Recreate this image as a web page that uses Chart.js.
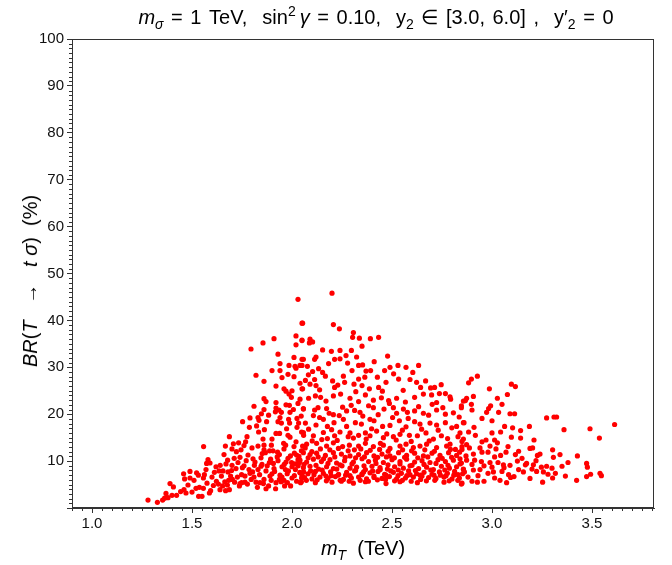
<!DOCTYPE html>
<html>
<head>
<meta charset="utf-8">
<script src="https://cdn.jsdelivr.net/npm/chart.js@4/dist/chart.umd.min.js"></script>
<style>
  body { margin: 0; background: #fff; }
  #wrap { position: relative; width: 672px; height: 565px; font-family: "Liberation Sans", Arial, Helvetica, sans-serif; color: #000; }
  canvas { position: absolute; left: 0; top: 0; }
  .lbl { position: absolute; white-space: nowrap; line-height: 1; }
  .lbl sub, .lbl sup { font-size: 70%; line-height: 0; }
  #title { left: 85px; width: 582px; top: 7px; text-align: center; font-size: 20px; word-spacing: 2px; }
  #xtitle { left: 72px; width: 582px; top: 538px; text-align: center; font-size: 20px; }
  #ytitle { left: 30px; top: 281px; font-size: 20px; transform: translate(-50%, -50%) rotate(-90deg); }
</style>
</head>
<body>
<div id="wrap">
  <canvas id="brChart" width="672" height="565"></canvas>
  <div class="lbl" id="title"><i>m</i><sub><i>σ</i></sub> = 1 TeV,&nbsp; sin<sup>2</sup>&thinsp;<i>γ</i> = 0.10,&nbsp; y<sub>2</sub> ∈ [3.0, 6.0] ,&nbsp; y′<sub>2</sub> = 0</div>
  <div class="lbl" id="ytitle"><i>BR</i>(<i>T</i> &nbsp;&nbsp;→&nbsp;&nbsp; <i>t</i> <i>σ</i>)&nbsp; (%)</div>
  <div class="lbl" id="xtitle"><i>m</i><sub><i>T</i></sub>&nbsp; (TeV)</div>
</div>
<script>
// tick labels
const xTickValues = [1.0, 1.5, 2.0, 2.5, 3.0, 3.5];
const yTickValues = [0, 10, 20, 30, 40, 50, 60, 70, 80, 90, 100];

// scan points [mT in TeV, BR in %]
const riseMass = [
  [2.03,44.5],[2.05,39.4],[2.02,36.7],[2.05,35.7],[1.91,36.1],[1.855,35.2],[1.795,33.9],[1.93,32.8],
  [2.02,34.8],[2.01,32.1],[2.05,31.7],[1.94,30.8],[1.985,30.4],[2.015,30.2],[2.02,29.8],[2.05,30.4],
  [1.90,29.3],[1.94,29.3],[1.98,28.5],[2.01,28.0],[1.95,27.8],[1.82,28.3],[1.86,27.0],[2.04,26.6],
  [1.92,26.0],[1.96,25.4],[1.97,24.9],[1.985,24.3],[2.0,25.0],[1.997,23.6],[2.05,25.4],[1.86,23.3],
  [1.87,22.7],[1.92,22.5],[1.97,22.0],[1.987,21.9],[2.03,22.3],[1.81,21.7],[1.86,21.0],[1.92,21.3],
  [1.917,20.5],[1.935,20.9],[1.947,20.4],[1.99,20.4],[2.007,21.0],[2.057,21.2],[1.847,20.1],[1.83,19.3],
  [1.79,19.2],[1.835,18.7],[1.883,19.8],[1.873,18.4],[1.94,19.3],[1.93,18.4],[1.947,18.1],[1.983,18.9],
  [1.988,18.1],[2.025,19.1],[2.033,18.1],[2.025,17.2],[1.753,18.4],[1.823,17.5],[1.833,16.2],[1.787,17.2],
  [1.862,16.7],[1.92,15.9],[1.938,15.9],[1.973,16.9],[1.98,15.5],[2.048,16.2],[2.058,15.5],[1.687,15.2],
  [1.775,15.2],[1.768,14.1],[1.855,14.7],[1.86,13.4],[1.897,13.4],[1.888,12.2],[1.905,12.2],[1.958,13.8],
  [1.968,13.4],[2.02,14.1],[2.01,13.1],[2.053,13.2],[2.047,12.2],[1.558,13.1],[1.667,13.2],[1.707,13.7],
  [1.733,13.9],[1.722,12.0],[1.745,12.4],[1.86,12.4],[1.867,11.8],[1.928,11.9],[1.937,11.4],[2.012,11.7],
  [2.023,11.3],[1.805,10.5],[1.845,10.7],[1.73,9.7],[1.678,10.2],[1.67,9.4],[1.573,9.5],[1.59,9.6],
  [1.57,8.2],[1.815,9.8],[1.83,8.2],[1.845,8.9],[1.893,10.4],[1.887,9.7],[1.907,9.5],[1.97,9.8],
  [1.998,9.7],[2.015,9.4],[2.037,9.7],[1.95,8.8],[1.967,8.2],[1.982,7.9],[2.017,8.2],[2.04,7.5],
  [2.058,7.7],[2.048,6.4],[1.458,7.3],[1.49,7.8],[1.523,7.5],[1.463,6.2],[1.49,6.4],[1.562,7.1],
  [1.557,6.4],[1.635,7.9],[1.655,7.9],[1.647,6.8],[1.68,7.7],[1.693,6.8],[1.683,5.9],[1.702,6.1],
  [1.713,5.5],[1.677,4.9],[1.748,7.1],[1.765,6.8],[1.785,8.2],[1.803,7.7],[1.79,7.4],[1.765,5.5],
  [1.748,5.4],[1.74,5.2],[1.777,5.1],[1.737,4.7],[1.82,5.5],[1.84,5.4],[1.857,5.2],[1.89,6.8],
  [1.827,4.4],[1.87,4.1],[1.883,4.7],[1.918,4.1],[1.937,6.1],[1.92,5.4],[1.963,4.7],[1.977,5.4],
  [2.0,6.4],[2.023,5.7],[2.043,5.4],[1.993,4.7],[1.622,5.7],[1.632,5.1],[1.607,4.8],[1.593,3.7],
  [1.587,3.2],[1.537,4.4],[1.557,4.2],[1.52,4.2],[1.533,2.5],[1.55,2.5],[1.64,3.9],[1.668,3.7],
  [1.687,3.9],[1.653,4.7],[1.39,5.2],[1.407,4.5],[1.443,3.5],[1.46,3.9],[1.423,2.7],[1.4,2.7],
  [1.37,3.1],[1.363,2.1],[1.353,1.7],[1.38,2.2],[1.327,1.2],[1.28,1.7],
  [1.9,7.3],[1.94,7.0],[1.87,7.9],[1.76,9.0],[1.72,8.4],[1.70,9.1],[1.62,8.8],[1.60,6.6],
  [1.95,6.6],[1.98,10.6],[2.0,8.8],[1.91,8.4],[1.86,6.1],[1.81,6.6],[1.78,11.3],[1.96,12.6],
  [1.90,14.7],[1.99,15.1],[1.83,13.2],[1.74,10.8],[1.85,9.3],[1.93,10.1],[2.03,10.3],[1.96,5.9],
  [1.612,7.6],[1.641,9.1],[1.664,5.6],[1.698,8.0],[1.711,10.6],[1.727,6.6],[1.752,8.6],[1.771,10.1],
  [1.796,6.1],[1.812,9.1],[1.838,7.1],[1.851,11.6],[1.876,9.0],[1.896,5.9],[1.913,7.8],[1.926,10.9],
  [1.945,5.6],[1.961,9.3],[1.976,7.3],[1.992,11.1],[2.012,6.9],[2.031,9.0],[1.575,5.3],[1.51,5.9],
  [1.532,7.0],[1.48,4.9],[1.47,3.2],[1.50,3.4],[1.58,10.3],[1.66,11.4],[1.70,12.6],[1.80,12.8],[1.76,13.3]
];

const centralUpper = [
  [2.2,45.8],[2.053,39.4],[2.207,39.1],[2.237,38.2],[2.307,37.4],[2.303,36.4],[2.337,36.2],[2.392,36.1],
  [2.433,36.4],[2.35,34.5],[2.05,35.8],[2.09,36.0],[2.103,35.4],[2.087,35.2],[2.153,33.7],[2.197,33.4],
  [2.24,33.6],[2.297,33.6],[2.213,31.7],[2.24,31.8],[2.27,32.5],[2.323,32.2],[2.057,31.7],[2.12,32.2],
  [2.113,31.7],[2.478,32.4],[2.04,30.4],[2.077,30.2],[2.103,29.1],[2.133,29.7],[2.153,28.9],[2.3,29.3],
  [2.333,30.4],[2.353,30.5],[2.37,29.2],[2.393,29.3],[2.463,29.3],[2.49,30.0],[2.53,30.4],[2.57,30.0],
  [2.633,30.4],[2.067,27.2],[2.09,26.4],[2.113,27.4],[2.12,26.1],[2.167,28.1],[2.203,27.1],[2.213,25.7],
  [2.257,28.1],[2.263,26.8],[2.31,26.4],[2.333,27.5],[2.35,26.1],[2.387,25.4],[2.427,27.9],[2.433,25.7],
  [2.47,26.8],[2.533,27.5],[2.59,27.4],[2.623,26.8],[2.643,25.7],[2.693,25.6],[2.713,25.7],[2.737,24.4],
  [2.767,24.4],[2.793,23.2],[2.79,23.7],[2.857,22.8],[2.053,25.4],[2.04,23.2],[2.083,23.4],[2.117,23.9],
  [2.143,23.6],[2.17,22.8],[2.207,23.9],[2.243,24.3],[2.29,23.4],[2.333,22.7],[2.367,24.1],[2.407,23.0],
  [2.447,23.5],[2.483,22.9],[2.523,23.4],[2.567,22.6],[2.613,23.6],[2.657,24.3],[2.698,24.1],[2.723,22.5],
  [2.057,21.1],[2.113,20.9],[2.13,21.4],[2.173,21.2],[2.207,19.9],[2.253,21.5],[2.273,20.7],[2.313,20.8],
  [2.34,20.4],[2.383,21.8],[2.407,21.4],[2.46,21.1],[2.507,21.4],[2.523,20.2],[2.557,21.1],[2.577,20.4],
  [2.613,20.7],[2.657,20.2],[2.683,19.8],[2.723,20.9],[2.767,20.0],[2.807,20.3],[2.847,21.4],
  [2.067,18.1],[2.107,19.7],[2.12,17.7],[2.157,18.9],[2.177,17.4],[2.21,18.2],[2.257,18.9],[2.273,17.4],
  [2.317,18.2],[2.347,17.9],[2.39,18.9],[2.41,18.6],[2.453,17.4],[2.49,17.6],[2.537,18.6],[2.57,17.3],
  [2.613,18.4],[2.64,17.9],[2.69,18.1],[2.723,17.7],[2.767,18.2],[2.823,17.4],[2.857,18.2],
  [2.057,16.1],[2.107,15.4],[2.157,16.1],[2.177,14.8],[2.213,15.4],[2.24,16.2],[2.29,16.0],[2.307,14.9],
  [2.333,15.5],[2.367,16.0],[2.39,15.4],[2.423,16.4],[2.457,15.0],[2.507,15.2],[2.54,15.7],[2.587,15.5],
  [2.627,15.4],[2.67,16.0],[2.707,14.7],[2.747,15.4],[2.79,13.6],[2.83,15.2],[2.857,14.7],
  [2.073,13.6],[2.123,13.8],[2.173,13.2],[2.207,13.9],[2.253,13.1],[2.287,13.4],[2.333,13.2],[2.367,13.8],
  [2.407,13.1],[2.457,13.4],[2.49,12.7],[2.54,13.2],[2.57,13.6],[2.607,12.9],[2.64,13.2],[2.673,13.6],
  [2.723,12.9],[2.773,13.2],[2.817,12.5],[2.85,13.1],
  [2.057,11.8],[2.09,11.4],[2.123,11.7],[2.167,11.2],[2.207,11.8],[2.247,11.5],[2.29,11.1],[2.333,11.4],
  [2.373,11.8],[2.41,11.1],[2.45,11.5],[2.49,11.1],[2.533,11.8],[2.573,11.2],[2.613,11.7],[2.657,11.1],
  [2.7,11.7],[2.74,11.2],[2.783,11.8],[2.823,11.2],
  [2.046,19.6],[2.083,16.8],[2.101,14.3],[2.138,19.3],[2.149,14.6],[2.186,20.2],[2.198,16.7],[2.226,14.4],
  [2.236,19.7],[2.281,15.2],[2.296,21.9],[2.312,12.4],[2.354,19.6],[2.371,14.7],[2.398,16.9],[2.431,19.9],
  [2.442,13.8],[2.474,15.8],[2.487,22.3],[2.503,19.3],[2.521,14.5],[2.552,16.6],[2.581,19.1],[2.596,14.2],
  [2.633,21.6],[2.648,16.8],[2.686,14.3],[2.701,22.1],[2.731,16.6],[2.754,21.4],[2.778,14.8],[2.799,17.1],
  [2.836,19.4],[2.082,28.4],[2.138,25.2],[2.183,30.8],[2.229,26.2],[2.278,30.9],[2.319,24.8],[2.364,27.9],
  [2.411,31.2],[2.452,24.9],[2.508,28.6],[2.556,25.1],[2.604,28.9],[2.668,27.1],[2.746,26.3]
];

const centralBand = [
  [2.04,10.2],[2.073,9.8],[2.107,10.4],[2.147,9.9],[2.19,10.3],[2.223,9.6],[2.263,10.1],[2.307,9.8],
  [2.35,10.5],[2.383,9.9],[2.417,10.2],[2.457,9.7],[2.5,10.3],[2.54,9.9],[2.573,10.4],[2.613,9.8],
  [2.65,10.1],[2.69,9.7],[2.73,10.3],[2.767,9.9],[2.807,10.2],[2.847,9.6],
  [2.057,8.6],[2.09,8.9],[2.133,8.3],[2.173,8.8],[2.207,8.4],[2.25,9.0],[2.29,8.5],[2.323,8.7],
  [2.367,8.2],[2.4,8.9],[2.44,8.6],[2.477,8.3],[2.513,8.8],[2.557,8.5],[2.59,9.0],[2.633,8.4],
  [2.673,8.7],[2.707,8.2],[2.747,8.9],[2.787,8.5],[2.823,8.8],[2.857,8.3],
  [2.04,7.6],[2.08,7.3],[2.117,7.8],[2.157,7.4],[2.193,7.7],[2.233,7.2],[2.273,7.6],[2.313,7.9],
  [2.35,7.3],[2.39,7.5],[2.43,7.8],[2.463,7.2],[2.507,7.6],[2.547,7.4],[2.583,7.9],[2.623,7.3],
  [2.66,7.6],[2.7,7.2],[2.737,7.7],[2.777,7.4],[2.813,7.8],[2.853,7.3],
  [2.063,6.5],[2.1,6.2],[2.14,6.6],[2.18,6.3],[2.217,6.7],[2.257,6.1],[2.297,6.4],[2.333,6.6],
  [2.373,6.2],[2.41,6.5],[2.45,6.3],[2.487,6.7],[2.523,6.2],[2.567,6.4],[2.607,6.6],[2.643,6.1],
  [2.683,6.5],[2.72,6.3],[2.76,6.6],[2.8,6.2],[2.837,6.4],
  [2.047,5.6],[2.117,5.4],[2.2,5.5],[2.247,5.7],[2.307,5.3],[2.367,5.6],[2.47,5.2],[2.54,5.6],
  [2.627,5.4],[2.76,5.5],[2.85,5.3],
  [2.06,9.3],[2.12,9.1],[2.18,9.5],[2.24,9.2],[2.3,9.4],[2.36,9.0],[2.42,9.5],[2.48,9.2],
  [2.54,9.4],[2.6,9.1],[2.66,9.3],[2.72,9.5],[2.78,9.1],[2.84,9.4],
  [2.05,6.9],[2.11,7.1],[2.17,6.8],[2.23,7.0],[2.29,6.9],[2.35,7.1],[2.41,6.8],[2.47,7.0],
  [2.53,6.9],[2.59,7.1],[2.65,6.8],[2.71,7.0],[2.77,6.9],[2.83,7.1],
  [2.072,5.9],[2.093,7.9],[2.126,6.0],[2.151,8.1],[2.172,5.8],[2.196,6.9],[2.224,8.3],[2.241,5.9],
  [2.268,7.0],[2.286,5.7],[2.318,8.0],[2.341,5.9],[2.358,7.7],[2.382,5.7],[2.403,7.9],[2.427,6.0],
  [2.441,8.2],[2.468,6.1],[2.494,7.9],[2.513,5.8],[2.531,8.1],[2.552,5.9],[2.574,6.9],[2.596,5.7],
  [2.617,8.0],[2.641,7.0],[2.672,5.8],[2.694,8.1],[2.714,5.9],[2.742,7.0],[2.764,8.1],[2.786,5.8],
  [2.809,7.0],[2.829,5.9],[2.862,7.7],
  [2.035,11.0],[2.066,12.8],[2.081,10.7],[2.099,12.0],[2.131,10.9],[2.142,12.6],[2.158,10.5],[2.189,12.4],
  [2.214,10.9],[2.232,12.7],[2.266,10.8],[2.281,12.2],[2.318,10.7],[2.344,12.6],[2.362,10.9],[2.391,12.3],
  [2.428,10.8],[2.438,12.5],[2.472,10.9],[2.481,12.1],[2.512,10.7],[2.553,12.4],[2.563,10.8],[2.598,12.2],
  [2.629,10.7],[2.664,12.4],[2.679,10.9],[2.712,12.1],[2.751,10.6],[2.792,12.5],[2.798,10.8],[2.838,11.9]
];

const tailMass = [
  [2.927,28.1],[2.897,27.5],[2.883,26.7],[2.987,25.4],[3.097,26.4],[3.117,25.9],[2.873,23.4],[2.867,22.9],
  [2.907,23.8],[3.027,23.4],[3.077,24.2],[2.847,21.8],[2.897,22.1],[2.9,20.9],[2.993,21.8],[2.983,21.2],
  [2.973,20.4],[3.033,20.4],[3.09,20.1],[3.113,20.1],[3.273,19.2],[3.31,19.4],[3.323,19.4],
  [2.86,18.2],[3.063,17.4],[3.103,17.1],[3.187,17.4],[3.36,16.7],[3.49,16.9],[3.613,17.8],[3.537,14.9],
  [2.84,16.0],[2.883,16.2],[2.917,15.5],[3.0,16.0],[3.043,16.2],[3.097,15.1],[3.143,14.9],[3.143,16.5],
  [2.85,14.2],[2.873,13.5],[2.95,14.1],[2.97,14.5],[3.013,14.5],[3.027,13.9],[3.21,14.5],
  [2.85,12.5],[2.887,12.8],[2.907,11.5],[2.95,11.9],[2.98,11.9],[3.013,10.9],[3.043,11.2],[3.07,11.9],
  [3.117,11.4],[3.133,12.1],[3.19,12.7],[3.203,12.8],[3.227,11.2],[3.24,11.5],[3.303,12.4],[3.307,10.8],
  [3.34,11.4],[3.427,11.1],
  [2.84,10.5],[2.873,10.2],[2.913,10.2],[2.947,9.9],[2.99,9.7],[3.03,9.7],[3.057,9.2],[3.09,9.1],
  [3.127,10.0],[3.167,9.2],[3.173,9.5],[3.207,9.2],[3.247,8.7],[3.273,8.9],[3.3,8.5],[3.35,8.9],
  [3.473,9.5],[3.477,8.7],
  [2.857,8.2],[2.907,8.1],[2.94,8.2],[2.98,7.4],[3.007,7.7],[3.05,7.8],[3.083,7.1],[3.133,8.2],
  [3.157,7.7],[3.223,7.8],[3.257,7.7],[3.317,7.4],[3.367,6.8],[3.493,7.2],[3.54,7.4],[3.547,6.9],
  [2.847,5.1],[2.9,5.7],[2.927,5.5],[2.96,5.7],[3.013,6.4],[3.04,5.9],[3.073,5.4],[3.093,6.5],
  [3.253,5.5],[3.303,6.4],[3.423,5.9],[3.473,6.7],
  [2.88,6.6],[2.93,6.9],[2.96,9.0],[2.9,9.3],[3.0,8.7],[3.11,6.7],[3.19,6.3],[3.02,12.6],
  [2.87,11.1],[2.94,12.8],[3.06,8.6],[3.15,10.6],[3.22,10.1],[2.99,13.2],[3.08,13.1],[3.20,8.3],
  [3.28,7.2],[3.38,9.7],[2.91,17.2],[2.95,19.1],[3.00,18.6],[3.05,22.1]
];

const minorYStep = 1;
const minorXStep = 0.05;

// minor ticks and the closing frame
const frameAndMinorTicks = {
  id: "frameAndMinorTicks",
  afterDraw(chart) {
    const { ctx, chartArea, scales } = chart;
    const x = scales.x, y = scales.y;
    ctx.save();
    ctx.strokeStyle = "#333";
    ctx.lineWidth = 1;
    ctx.beginPath();
    for (let v = y.min; v <= y.max + 1e-9; v += minorYStep) {
      if (Math.abs(v % 10) < 1e-6) continue;
      const py = Math.round(y.getPixelForValue(v)) + 0.5;
      ctx.moveTo(chartArea.left - 3, py);
      ctx.lineTo(chartArea.left, py);
    }
    for (let v = 0.9; v <= x.max + 1e-9; v += minorXStep) {
      const r = Math.round(v * 100);
      if (r % 50 === 0) continue;
      const px = Math.round(x.getPixelForValue(v)) + 0.5;
      ctx.moveTo(px, chartArea.bottom);
      ctx.lineTo(px, chartArea.bottom + 3);
    }
    ctx.stroke();
    ctx.strokeRect(Math.round(chartArea.left) + 0.5, Math.round(chartArea.top) + 0.5,
      Math.round(chartArea.width) - 1, Math.round(chartArea.height) - 1);
    ctx.restore();
  }
};

const toPoints = (list) => list.map((p) => ({ x: p[0], y: p[1] }));
const fontFamily = "'Liberation Sans', Arial, Helvetica, sans-serif";

var ctx = document.getElementById("brChart").getContext("2d");
var brChart = new Chart(ctx, {
  type: "scatter",
  data: {
    datasets: [
      {
        label: "scan",
        data: toPoints(riseMass.concat(centralUpper, centralBand, tailMass)),
        backgroundColor: "#ff0000",
        borderWidth: 0,
        pointRadius: 2.6,
      },
    ],
  },
  options: {
    responsive: false,
    animation: false,
    layout: { padding: { top: 39, right: 18, left: 0, bottom: 0 } },
    plugins: { legend: { display: false }, tooltip: { enabled: false } },
    scales: {
      x: {
        type: "linear",
        min: 0.9,
        max: 3.81,
        afterBuildTicks: (s) => { s.ticks = xTickValues.map((v) => ({ value: v })); },
        afterFit: (s) => { s.height = 57; },
        ticks: {
          callback: (v) => Number(v).toFixed(1),
          font: { size: 15, family: fontFamily },
          color: "#111",
          padding: 2,
          maxRotation: 0,
          autoSkip: false,
        },
        grid: { drawOnChartArea: false, tickLength: 5, color: "#333" },
        border: { color: "#333" },
      },
      y: {
        min: 0,
        max: 100,
        afterBuildTicks: (s) => { s.ticks = yTickValues.map((v) => ({ value: v })); },
        afterFit: (s) => { s.width = 72; },
        ticks: {
          callback: (v) => (v === 0 ? "" : v),
          font: { size: 15, family: fontFamily },
          color: "#111",
          padding: 3,
          autoSkip: false,
        },
        grid: { drawOnChartArea: false, tickLength: 5, color: "#333" },
        border: { color: "#333" },
      },
    },
  },
  plugins: [frameAndMinorTicks],
});
</script>
</body>
</html>
